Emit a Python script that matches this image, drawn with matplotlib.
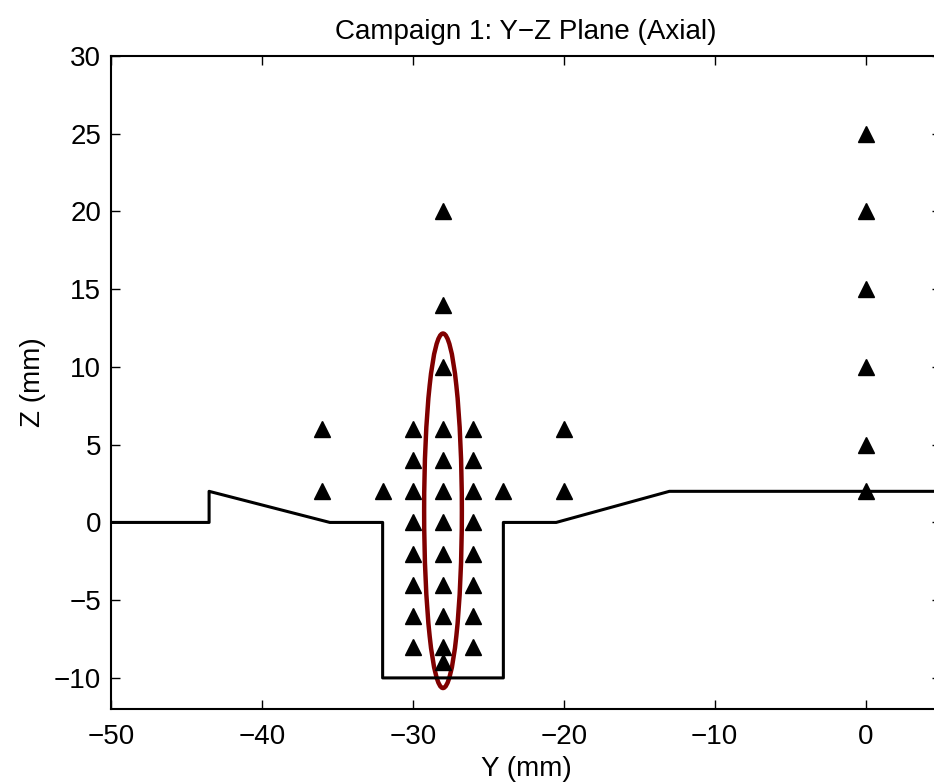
import numpy as np
import matplotlib
matplotlib.use('Agg')
import matplotlib.pyplot as plt
from matplotlib.patches import Ellipse

plt.rcParams['font.family'] = ['Liberation Sans', 'DejaVu Sans']
plt.rcParams['font.size'] = 20

# outline of the geometry (Y, Z in mm)
outline_y = [-50, -43.5, -43.5, -35.5, -32, -32, -24, -24, -20.5, -13, 5]
outline_z = [0, 0, 2, 0, 0, -10, -10, 0, 0, 2, 2]

# measurement points
pts_y = ([-36, -36, -32, -24, -20, -20]
         + [-30] * 8 + [-26] * 8
         + [-28] * 12
         + [0] * 6)
pts_z = ([2, 6, 2, 2, 2, 6]
         + [-8, -6, -4, -2, 0, 2, 4, 6]
         + [-8, -6, -4, -2, 0, 2, 4, 6]
         + [-9, -8, -6, -4, -2, 0, 2, 4, 6, 10, 14, 20]
         + [2, 5, 10, 15, 20, 25])

# highlighted column
ell_center = (-28, 0.75)
ell_w = 2.5
ell_h = 22.8

x_ticks = [-50, -40, -30, -20, -10, 0]
y_ticks = [-10, -5, 0, 5, 10, 15, 20, 25, 30]

fig = plt.figure(figsize=(9.34, 7.83), dpi=100)
ax = fig.add_axes([111 / 934, 74 / 783, 830 / 934, 653 / 783])

ax.plot(outline_y, outline_z, color='k', lw=2.2)
ax.plot(pts_y, pts_z, '^', color='k', ms=11.5, mec='k')
ax.add_patch(Ellipse(ell_center, ell_w, ell_h, fill=False,
                     ec=(0.5, 0, 0), lw=3.2))

ax.set_xlim(-50, 5)
ax.set_ylim(-12, 30)
ax.set_xticks(x_ticks)
ax.set_yticks(y_ticks)
ax.tick_params(direction='in', length=6.5, width=1, top=True, right=True,
               labelsize=20)
ax.tick_params(axis='x', pad=11)
ax.tick_params(axis='y', pad=7)
for s in ax.spines.values():
    s.set_linewidth(1.5)

ax.set_xlabel('Y (mm)', labelpad=4)
ax.set_ylabel('Z (mm)', labelpad=6)
ax.set_title('Campaign 1: Y\u2212Z Plane (Axial)', fontsize=20, pad=12)

fig.savefig('out.png', dpi=100)
